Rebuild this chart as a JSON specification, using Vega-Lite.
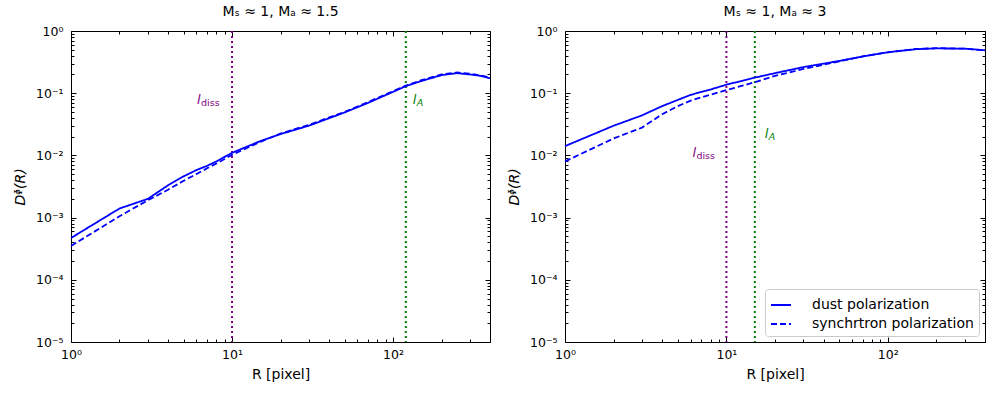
{
 "$schema": "https://vega.github.io/schema/vega-lite/v6.json",
 "padding": {"left": 12, "top": 4, "right": 8, "bottom": 4},
 "config": {
  "font": "DejaVu Sans",
  "view": {"stroke": "black", "strokeWidth": 1},
  "axis": {"grid": false, "domain": false, "labelFontSize": 12.5, "labelColor": "black", "titleFontSize": 14, "titleFontWeight": "normal", "titleColor": "black", "tickColor": "black", "labelOverlap": false, "labelFlush": false, "labelBound": false},
  "title": {"fontSize": 14, "fontWeight": "normal", "offset": 6},
  "legend": {"strokeColor": "#cccccc", "fillColor": "white", "cornerRadius": 3, "padding": 5, "labelFontSize": 14, "labelColor": "black", "labelLimit": 400, "symbolType": "stroke", "symbolSize": 400, "symbolStrokeWidth": 2, "rowPadding": 1, "labelOffset": 20}
 },
 "resolve": {"legend": {"strokeDash": "independent"}},
 "spacing": 11,
 "datasets": {
  "curves": [
   {"p": "L", "s": "dust polarization", "R": 1, "D": 0.00047},
   {"p": "L", "s": "dust polarization", "R": 2, "D": 0.0014},
   {"p": "L", "s": "dust polarization", "R": 3, "D": 0.002},
   {"p": "L", "s": "dust polarization", "R": 4, "D": 0.0033},
   {"p": "L", "s": "dust polarization", "R": 5, "D": 0.0046},
   {"p": "L", "s": "dust polarization", "R": 6, "D": 0.0058},
   {"p": "L", "s": "dust polarization", "R": 7, "D": 0.0068},
   {"p": "L", "s": "dust polarization", "R": 8, "D": 0.008},
   {"p": "L", "s": "dust polarization", "R": 10, "D": 0.011},
   {"p": "L", "s": "dust polarization", "R": 15, "D": 0.017},
   {"p": "L", "s": "dust polarization", "R": 20, "D": 0.022},
   {"p": "L", "s": "dust polarization", "R": 30, "D": 0.03},
   {"p": "L", "s": "dust polarization", "R": 50, "D": 0.049},
   {"p": "L", "s": "dust polarization", "R": 70, "D": 0.07},
   {"p": "L", "s": "dust polarization", "R": 100, "D": 0.105},
   {"p": "L", "s": "dust polarization", "R": 120, "D": 0.13},
   {"p": "L", "s": "dust polarization", "R": 150, "D": 0.157},
   {"p": "L", "s": "dust polarization", "R": 200, "D": 0.195},
   {"p": "L", "s": "dust polarization", "R": 250, "D": 0.21},
   {"p": "L", "s": "dust polarization", "R": 300, "D": 0.2},
   {"p": "L", "s": "dust polarization", "R": 350, "D": 0.19},
   {"p": "L", "s": "dust polarization", "R": 400, "D": 0.174},
   {"p": "L", "s": "synchrtron polarization", "R": 1, "D": 0.00035},
   {"p": "L", "s": "synchrtron polarization", "R": 2, "D": 0.00105},
   {"p": "L", "s": "synchrtron polarization", "R": 3, "D": 0.0019},
   {"p": "L", "s": "synchrtron polarization", "R": 4, "D": 0.0028},
   {"p": "L", "s": "synchrtron polarization", "R": 5, "D": 0.0039},
   {"p": "L", "s": "synchrtron polarization", "R": 6, "D": 0.005},
   {"p": "L", "s": "synchrtron polarization", "R": 7, "D": 0.0062},
   {"p": "L", "s": "synchrtron polarization", "R": 8, "D": 0.0074},
   {"p": "L", "s": "synchrtron polarization", "R": 10, "D": 0.0102},
   {"p": "L", "s": "synchrtron polarization", "R": 15, "D": 0.0165},
   {"p": "L", "s": "synchrtron polarization", "R": 20, "D": 0.0225},
   {"p": "L", "s": "synchrtron polarization", "R": 30, "D": 0.031},
   {"p": "L", "s": "synchrtron polarization", "R": 50, "D": 0.05},
   {"p": "L", "s": "synchrtron polarization", "R": 70, "D": 0.072},
   {"p": "L", "s": "synchrtron polarization", "R": 100, "D": 0.108},
   {"p": "L", "s": "synchrtron polarization", "R": 120, "D": 0.132},
   {"p": "L", "s": "synchrtron polarization", "R": 150, "D": 0.162},
   {"p": "L", "s": "synchrtron polarization", "R": 200, "D": 0.2},
   {"p": "L", "s": "synchrtron polarization", "R": 250, "D": 0.215},
   {"p": "L", "s": "synchrtron polarization", "R": 300, "D": 0.207},
   {"p": "L", "s": "synchrtron polarization", "R": 350, "D": 0.193},
   {"p": "L", "s": "synchrtron polarization", "R": 400, "D": 0.178},
   {"p": "R", "s": "dust polarization", "R": 1, "D": 0.0141},
   {"p": "R", "s": "dust polarization", "R": 2, "D": 0.03},
   {"p": "R", "s": "dust polarization", "R": 3, "D": 0.044},
   {"p": "R", "s": "dust polarization", "R": 4, "D": 0.062},
   {"p": "R", "s": "dust polarization", "R": 5, "D": 0.078},
   {"p": "R", "s": "dust polarization", "R": 6, "D": 0.094},
   {"p": "R", "s": "dust polarization", "R": 8, "D": 0.115},
   {"p": "R", "s": "dust polarization", "R": 10, "D": 0.137},
   {"p": "R", "s": "dust polarization", "R": 15, "D": 0.178},
   {"p": "R", "s": "dust polarization", "R": 20, "D": 0.21},
   {"p": "R", "s": "dust polarization", "R": 30, "D": 0.263},
   {"p": "R", "s": "dust polarization", "R": 50, "D": 0.33},
   {"p": "R", "s": "dust polarization", "R": 70, "D": 0.39},
   {"p": "R", "s": "dust polarization", "R": 100, "D": 0.455},
   {"p": "R", "s": "dust polarization", "R": 150, "D": 0.51},
   {"p": "R", "s": "dust polarization", "R": 200, "D": 0.525},
   {"p": "R", "s": "dust polarization", "R": 300, "D": 0.52},
   {"p": "R", "s": "dust polarization", "R": 400, "D": 0.49},
   {"p": "R", "s": "synchrtron polarization", "R": 1, "D": 0.008},
   {"p": "R", "s": "synchrtron polarization", "R": 2, "D": 0.0187},
   {"p": "R", "s": "synchrtron polarization", "R": 3, "D": 0.028},
   {"p": "R", "s": "synchrtron polarization", "R": 4, "D": 0.046},
   {"p": "R", "s": "synchrtron polarization", "R": 5, "D": 0.062},
   {"p": "R", "s": "synchrtron polarization", "R": 6, "D": 0.076},
   {"p": "R", "s": "synchrtron polarization", "R": 8, "D": 0.095},
   {"p": "R", "s": "synchrtron polarization", "R": 10, "D": 0.112},
   {"p": "R", "s": "synchrtron polarization", "R": 15, "D": 0.15},
   {"p": "R", "s": "synchrtron polarization", "R": 20, "D": 0.19},
   {"p": "R", "s": "synchrtron polarization", "R": 30, "D": 0.245},
   {"p": "R", "s": "synchrtron polarization", "R": 50, "D": 0.325},
   {"p": "R", "s": "synchrtron polarization", "R": 70, "D": 0.39},
   {"p": "R", "s": "synchrtron polarization", "R": 100, "D": 0.455},
   {"p": "R", "s": "synchrtron polarization", "R": 150, "D": 0.515},
   {"p": "R", "s": "synchrtron polarization", "R": 200, "D": 0.53},
   {"p": "R", "s": "synchrtron polarization", "R": 300, "D": 0.52},
   {"p": "R", "s": "synchrtron polarization", "R": 400, "D": 0.49}
  ],
  "vlines": [
   {"p": "L", "x": 10, "name": "diss"},
   {"p": "L", "x": 120, "name": "A"},
   {"p": "R", "x": 10, "name": "diss"},
   {"p": "R", "x": 15, "name": "A"}
  ],
  "labels": [
   {"p": "L", "name": "diss", "x": 10, "y": 0.067, "main": "l", "sub": "diss"},
   {"p": "L", "name": "A", "x": 120, "y": 0.067, "main": "l", "sub": "A"},
   {"p": "R", "name": "diss", "x": 10, "y": 0.0094, "main": "l", "sub": "diss"},
   {"p": "R", "name": "A", "x": 15, "y": 0.0193, "main": "l", "sub": "A"}
  ]
 },
 "hconcat": [
  {
   "width": 419, "height": 311,
   "title": {"text": "Mₛ ≈ 1, Mₐ ≈ 1.5"},
   "layer": [
    {
     "data": {"name": "vlines"},
     "transform": [{"filter": "datum.p == 'L'"}],
     "mark": {"type": "rule", "strokeWidth": 2, "strokeDash": [2, 3]},
     "encoding": {
      "x": {"field": "x", "type": "quantitative", "scale": {"type": "log", "domain": [1, 400]}, "axis": null},
      "color": {"field": "name", "type": "nominal", "scale": {"domain": ["diss", "A"], "range": ["purple", "green"]}, "legend": null}
     }
    },
    {
     "data": {"name": "curves"},
     "transform": [{"filter": "datum.p == 'L'"}],
     "mark": {"type": "line", "color": "blue", "strokeWidth": 1.8},
     "encoding": {
      "x": {"field": "R", "type": "quantitative", "scale": {"type": "log", "domain": [1, 400]},
       "axis": {"orient": "bottom", "title": "R [pixel]", "values": [1,2,3,4,5,6,7,8,9,10,20,30,40,50,60,70,80,90,100,200,300,400],
        "labelExpr": "abs(log(datum.value)/LN10 - round(log(datum.value)/LN10)) < 0.001 ? '10' + ['⁻⁵','⁻⁴','⁻³','⁻²','⁻¹','⁰','¹','²','³'][round(log(datum.value)/LN10)+5] : ''",
        "tickSize": {"condition": {"test": "abs(log(datum.value)/LN10 - round(log(datum.value)/LN10)) < 0.001", "value": -5}, "value": -3},
        "labelPadding": 11, "titlePadding": 5}},
      "y": {"field": "D", "type": "quantitative", "scale": {"type": "log", "domain": [0.00001, 1]},
       "axis": {"orient": "left", "title": "Dᶲ(R)", "titleFontStyle": "italic",
        "values": [0.00001,0.00002,0.00003,0.00004,0.00005,0.00006,0.00007,0.00008,0.00009,0.0001,0.0002,0.0003,0.0004,0.0005,0.0006,0.0007,0.0008,0.0009,0.001,0.002,0.003,0.004,0.005,0.006,0.007,0.008,0.009,0.01,0.02,0.03,0.04,0.05,0.06,0.07,0.08,0.09,0.1,0.2,0.3,0.4,0.5,0.6,0.7,0.8,0.9,1],
        "labelExpr": "abs(log(datum.value)/LN10 - round(log(datum.value)/LN10)) < 0.001 ? '10' + ['⁻⁵','⁻⁴','⁻³','⁻²','⁻¹','⁰','¹','²','³'][round(log(datum.value)/LN10)+5] : ''",
        "tickSize": {"condition": {"test": "abs(log(datum.value)/LN10 - round(log(datum.value)/LN10)) < 0.001", "value": -5}, "value": -3},
        "labelPadding": 13, "titlePadding": 8}},
      "strokeDash": {"field": "s", "type": "nominal", "scale": {"domain": ["dust polarization", "synchrtron polarization"], "range": [[1, 0], [6, 3]]}, "legend": null}
     }
    },
    {
     "data": {"name": "curves"},
     "transform": [{"filter": "datum.p == 'L'"}],
     "mark": {"type": "point", "opacity": 0},
     "encoding": {
      "x": {"field": "R", "type": "quantitative", "scale": {"type": "log", "domain": [1, 400]},
       "axis": {"orient": "top", "title": null, "labels": false, "values": [1,2,3,4,5,6,7,8,9,10,20,30,40,50,60,70,80,90,100,200,300,400],
        "tickSize": {"condition": {"test": "abs(log(datum.value)/LN10 - round(log(datum.value)/LN10)) < 0.001", "value": -5}, "value": -3}}},
      "y": {"field": "D", "type": "quantitative", "scale": {"type": "log", "domain": [0.00001, 1]},
       "axis": {"orient": "right", "title": null, "labels": false,
        "values": [0.00001,0.00002,0.00003,0.00004,0.00005,0.00006,0.00007,0.00008,0.00009,0.0001,0.0002,0.0003,0.0004,0.0005,0.0006,0.0007,0.0008,0.0009,0.001,0.002,0.003,0.004,0.005,0.006,0.007,0.008,0.009,0.01,0.02,0.03,0.04,0.05,0.06,0.07,0.08,0.09,0.1,0.2,0.3,0.4,0.5,0.6,0.7,0.8,0.9,1],
        "tickSize": {"condition": {"test": "abs(log(datum.value)/LN10 - round(log(datum.value)/LN10)) < 0.001", "value": -5}, "value": -3}}}
     }
    },
    {
     "data": {"name": "labels"},
     "transform": [{"filter": "datum.p == 'L' && datum.name == 'diss'"}],
     "layer": [
      {"mark": {"type": "text", "align": "left", "baseline": "alphabetic", "fontSize": 13, "fontStyle": "italic", "dx": -35, "color": "purple"},
       "encoding": {"text": {"field": "main"}, "x": {"field": "x", "type": "quantitative", "scale": {"type": "log", "domain": [1, 400]}, "axis": null}, "y": {"field": "y", "type": "quantitative", "scale": {"type": "log", "domain": [0.00001, 1]}, "axis": null}}},
      {"mark": {"type": "text", "align": "left", "baseline": "alphabetic", "fontSize": 9.5, "dx": -31, "dy": 2, "color": "purple"},
       "encoding": {"text": {"field": "sub"}, "x": {"field": "x", "type": "quantitative", "scale": {"type": "log", "domain": [1, 400]}, "axis": null}, "y": {"field": "y", "type": "quantitative", "scale": {"type": "log", "domain": [0.00001, 1]}, "axis": null}}}
     ]
    },
    {
     "data": {"name": "labels"},
     "transform": [{"filter": "datum.p == 'L' && datum.name == 'A'"}],
     "layer": [
      {"mark": {"type": "text", "align": "left", "baseline": "alphabetic", "fontSize": 13, "fontStyle": "italic", "dx": 7, "color": "green"},
       "encoding": {"text": {"field": "main"}, "x": {"field": "x", "type": "quantitative", "scale": {"type": "log", "domain": [1, 400]}, "axis": null}, "y": {"field": "y", "type": "quantitative", "scale": {"type": "log", "domain": [0.00001, 1]}, "axis": null}}},
      {"mark": {"type": "text", "align": "left", "baseline": "alphabetic", "fontSize": 9.5, "fontStyle": "italic", "dx": 11, "dy": 2, "color": "green"},
       "encoding": {"text": {"field": "sub"}, "x": {"field": "x", "type": "quantitative", "scale": {"type": "log", "domain": [1, 400]}, "axis": null}, "y": {"field": "y", "type": "quantitative", "scale": {"type": "log", "domain": [0.00001, 1]}, "axis": null}}}
     ]
    }
   ]
  },
  {
   "width": 420, "height": 311,
   "title": {"text": "Mₛ ≈ 1, Mₐ ≈ 3"},
   "layer": [
    {
     "data": {"name": "vlines"},
     "transform": [{"filter": "datum.p == 'R'"}],
     "mark": {"type": "rule", "strokeWidth": 2, "strokeDash": [2, 3]},
     "encoding": {
      "x": {"field": "x", "type": "quantitative", "scale": {"type": "log", "domain": [1, 400]}, "axis": null},
      "color": {"field": "name", "type": "nominal", "scale": {"domain": ["diss", "A"], "range": ["purple", "green"]}, "legend": null}
     }
    },
    {
     "data": {"name": "curves"},
     "transform": [{"filter": "datum.p == 'R'"}],
     "mark": {"type": "line", "color": "blue", "strokeWidth": 1.8},
     "encoding": {
      "x": {"field": "R", "type": "quantitative", "scale": {"type": "log", "domain": [1, 400]},
       "axis": {"orient": "bottom", "title": "R [pixel]", "values": [1,2,3,4,5,6,7,8,9,10,20,30,40,50,60,70,80,90,100,200,300,400],
        "labelExpr": "abs(log(datum.value)/LN10 - round(log(datum.value)/LN10)) < 0.001 ? '10' + ['⁻⁵','⁻⁴','⁻³','⁻²','⁻¹','⁰','¹','²','³'][round(log(datum.value)/LN10)+5] : ''",
        "tickSize": {"condition": {"test": "abs(log(datum.value)/LN10 - round(log(datum.value)/LN10)) < 0.001", "value": -5}, "value": -3},
        "labelPadding": 11, "titlePadding": 5}},
      "y": {"field": "D", "type": "quantitative", "scale": {"type": "log", "domain": [0.00001, 1]},
       "axis": {"orient": "left", "title": "Dᶲ(R)", "titleFontStyle": "italic",
        "values": [0.00001,0.00002,0.00003,0.00004,0.00005,0.00006,0.00007,0.00008,0.00009,0.0001,0.0002,0.0003,0.0004,0.0005,0.0006,0.0007,0.0008,0.0009,0.001,0.002,0.003,0.004,0.005,0.006,0.007,0.008,0.009,0.01,0.02,0.03,0.04,0.05,0.06,0.07,0.08,0.09,0.1,0.2,0.3,0.4,0.5,0.6,0.7,0.8,0.9,1],
        "labelExpr": "abs(log(datum.value)/LN10 - round(log(datum.value)/LN10)) < 0.001 ? '10' + ['⁻⁵','⁻⁴','⁻³','⁻²','⁻¹','⁰','¹','²','³'][round(log(datum.value)/LN10)+5] : ''",
        "tickSize": {"condition": {"test": "abs(log(datum.value)/LN10 - round(log(datum.value)/LN10)) < 0.001", "value": -5}, "value": -3},
        "labelPadding": 13, "titlePadding": 8}},
      "strokeDash": {"field": "s", "type": "nominal", "title": null, "scale": {"domain": ["dust polarization", "synchrtron polarization"], "range": [[1, 0], [6, 3]]},
       "legend": {"orient": "bottom-right", "offset": 6, "title": null}}
     }
    },
    {
     "data": {"name": "curves"},
     "transform": [{"filter": "datum.p == 'R'"}],
     "mark": {"type": "point", "opacity": 0},
     "encoding": {
      "x": {"field": "R", "type": "quantitative", "scale": {"type": "log", "domain": [1, 400]},
       "axis": {"orient": "top", "title": null, "labels": false, "values": [1,2,3,4,5,6,7,8,9,10,20,30,40,50,60,70,80,90,100,200,300,400],
        "tickSize": {"condition": {"test": "abs(log(datum.value)/LN10 - round(log(datum.value)/LN10)) < 0.001", "value": -5}, "value": -3}}},
      "y": {"field": "D", "type": "quantitative", "scale": {"type": "log", "domain": [0.00001, 1]},
       "axis": {"orient": "right", "title": null, "labels": false,
        "values": [0.00001,0.00002,0.00003,0.00004,0.00005,0.00006,0.00007,0.00008,0.00009,0.0001,0.0002,0.0003,0.0004,0.0005,0.0006,0.0007,0.0008,0.0009,0.001,0.002,0.003,0.004,0.005,0.006,0.007,0.008,0.009,0.01,0.02,0.03,0.04,0.05,0.06,0.07,0.08,0.09,0.1,0.2,0.3,0.4,0.5,0.6,0.7,0.8,0.9,1],
        "tickSize": {"condition": {"test": "abs(log(datum.value)/LN10 - round(log(datum.value)/LN10)) < 0.001", "value": -5}, "value": -3}}}
     }
    },
    {
     "data": {"name": "labels"},
     "transform": [{"filter": "datum.p == 'R' && datum.name == 'diss'"}],
     "layer": [
      {"mark": {"type": "text", "align": "left", "baseline": "alphabetic", "fontSize": 13, "fontStyle": "italic", "dx": -34, "color": "purple"},
       "encoding": {"text": {"field": "main"}, "x": {"field": "x", "type": "quantitative", "scale": {"type": "log", "domain": [1, 400]}, "axis": null}, "y": {"field": "y", "type": "quantitative", "scale": {"type": "log", "domain": [0.00001, 1]}, "axis": null}}},
      {"mark": {"type": "text", "align": "left", "baseline": "alphabetic", "fontSize": 9.5, "dx": -30, "dy": 2, "color": "purple"},
       "encoding": {"text": {"field": "sub"}, "x": {"field": "x", "type": "quantitative", "scale": {"type": "log", "domain": [1, 400]}, "axis": null}, "y": {"field": "y", "type": "quantitative", "scale": {"type": "log", "domain": [0.00001, 1]}, "axis": null}}}
     ]
    },
    {
     "data": {"name": "labels"},
     "transform": [{"filter": "datum.p == 'R' && datum.name == 'A'"}],
     "layer": [
      {"mark": {"type": "text", "align": "left", "baseline": "alphabetic", "fontSize": 13, "fontStyle": "italic", "dx": 10, "color": "green"},
       "encoding": {"text": {"field": "main"}, "x": {"field": "x", "type": "quantitative", "scale": {"type": "log", "domain": [1, 400]}, "axis": null}, "y": {"field": "y", "type": "quantitative", "scale": {"type": "log", "domain": [0.00001, 1]}, "axis": null}}},
      {"mark": {"type": "text", "align": "left", "baseline": "alphabetic", "fontSize": 9.5, "fontStyle": "italic", "dx": 14, "dy": 2, "color": "green"},
       "encoding": {"text": {"field": "sub"}, "x": {"field": "x", "type": "quantitative", "scale": {"type": "log", "domain": [1, 400]}, "axis": null}, "y": {"field": "y", "type": "quantitative", "scale": {"type": "log", "domain": [0.00001, 1]}, "axis": null}}}
     ]
    }
   ]
  }
 ]
}
